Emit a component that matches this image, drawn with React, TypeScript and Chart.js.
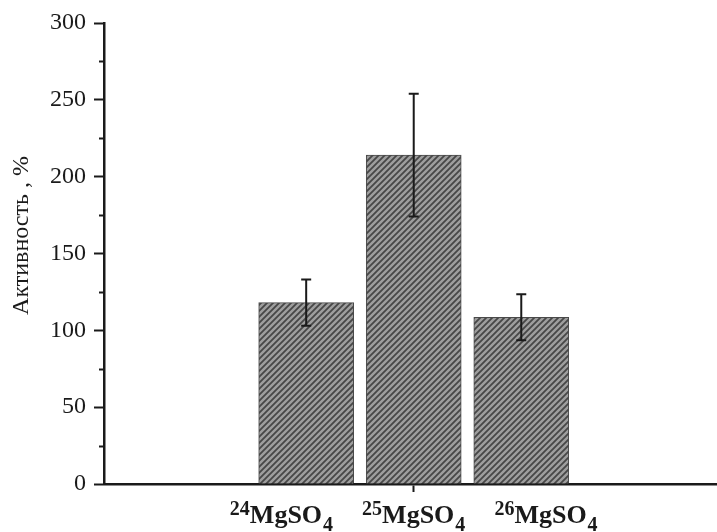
import React, { useEffect, useRef } from "react";
import { Chart, registerables } from "chart.js";

Chart.register(...registerables);

const isotopes = ["24", "25", "26"];
const formulaMain = "MgSO";
const formulaSub = "4";
const activity = [118, 214, 108.5];
const errors = [15, 40, 15];
const yTitle = "Активность , %";
const yMin = 0;
const yMax = 300;
const yMajorStep = 50;
const yMinorStep = 25;

const SERIF = "'Liberation Serif', 'Times New Roman', serif";
const INK = "#1a1a1a";

function makePattern(): CanvasPattern | string {
  const s = 6;
  const c = document.createElement("canvas");
  c.width = s;
  c.height = s;
  const g = c.getContext("2d");
  if (!g) return "#777";
  g.fillStyle = "#9e9e9e";
  g.fillRect(0, 0, s, s);
  g.strokeStyle = "#474747";
  g.lineWidth = 1.8;
  g.beginPath();
  g.moveTo(-1, s + 1);
  g.lineTo(s + 1, -1);
  g.moveTo(-1, 1);
  g.lineTo(1, -1);
  g.moveTo(s - 1, s + 1);
  g.lineTo(s + 1, s - 1);
  g.stroke();
  const p = g.createPattern(c, "repeat");
  return p || "#777";
}

export default function App() {
  const ref = useRef<HTMLCanvasElement | null>(null);

  useEffect(() => {
    if (!ref.current) return;
    const pattern = makePattern();
    const positions = isotopes.map((_, i) => i + 1);
    const mid = (positions[0] + positions[positions.length - 1]) / 2;

    const extras = {
      id: "extras",
      afterDatasetsDraw(chart: any) {
        const ctx = chart.ctx;
        const ys = chart.scales.y;
        const meta = chart.getDatasetMeta(0);
        ctx.save();
        ctx.strokeStyle = INK;
        ctx.lineWidth = 2;
        meta.data.forEach((el: any, i: number) => {
          const top = ys.getPixelForValue(activity[i] + errors[i]);
          const bot = ys.getPixelForValue(activity[i] - errors[i]);
          ctx.beginPath();
          ctx.moveTo(el.x, top);
          ctx.lineTo(el.x, bot);
          ctx.moveTo(el.x - 5, top);
          ctx.lineTo(el.x + 5, top);
          ctx.moveTo(el.x - 5, bot);
          ctx.lineTo(el.x + 5, bot);
          ctx.stroke();
        });
        ctx.restore();
      },
      afterDraw(chart: any) {
        const ctx = chart.ctx;
        const ys = chart.scales.y;
        const xs = chart.scales.x;
        const area = chart.chartArea;
        ctx.save();
        ctx.strokeStyle = INK;
        ctx.lineWidth = 2;
        for (let v = yMin; v <= yMax; v += yMinorStep) {
          if (v % yMajorStep === 0) continue;
          const py = Math.round(ys.getPixelForValue(v)) + 0.5;
          ctx.beginPath();
          ctx.moveTo(area.left - 5, py);
          ctx.lineTo(area.left, py);
          ctx.stroke();
        }
        ctx.fillStyle = INK;
        ctx.font = `24px ${SERIF}`;
        ctx.textAlign = "center";
        ctx.textBaseline = "middle";
        ctx.translate(22, (area.top + area.bottom) / 2 - 18);
        ctx.rotate(-Math.PI / 2);
        ctx.fillText(yTitle, 0, 0);
        ctx.setTransform(1, 0, 0, 1, 0, 0);
        const baseY = area.bottom + 39;
        const supFont = `bold 20px ${SERIF}`;
        const mainFont = `bold 26px ${SERIF}`;
        isotopes.forEach((iso, i) => {
          const pos = mid + (positions[i] - mid) * 1.23;
          const cx = xs.getPixelForValue(pos);
          ctx.textAlign = "left";
          ctx.textBaseline = "alphabetic";
          ctx.font = supFont;
          const wSup = ctx.measureText(iso).width;
          const wSub = ctx.measureText(formulaSub).width;
          ctx.font = mainFont;
          const wMain = ctx.measureText(formulaMain).width;
          const total = wSup + wMain + wSub + 1;
          let x0 = cx - total / 2;
          ctx.font = supFont;
          ctx.fillText(iso, x0, baseY - 8);
          x0 += wSup;
          ctx.font = mainFont;
          ctx.fillText(formulaMain, x0, baseY);
          x0 += wMain + 1;
          ctx.font = supFont;
          ctx.fillText(formulaSub, x0, baseY + 8);
        });
        ctx.restore();
      },
    };

    const chart = new Chart(ref.current, {
      type: "bar",
      data: {
        datasets: [
          {
            data: positions.map((p, i) => ({ x: p, y: activity[i] })),
            backgroundColor: pattern as any,
            borderColor: "#4a4a4a",
            borderWidth: 1,
            barThickness: 95,
          },
        ],
      },
      options: {
        animation: false,
        responsive: true,
        maintainAspectRatio: false,
        layout: { padding: { top: 23, right: 0, left: 0, bottom: 0 } },
        plugins: {
          legend: { display: false },
          tooltip: { enabled: false },
        },
        scales: {
          x: {
            type: "linear",
            offset: false,
            bounds: "data",
            min: -0.88,
            max: 4.82,
            afterFit: (s: any) => {
              s.height = 48;
            },
            afterBuildTicks: (s: any) => {
              s.ticks = [{ value: mid }];
            },
            ticks: { display: false },
            grid: {
              offset: false,
              drawOnChartArea: false,
              tickLength: 8,
              tickColor: INK,
              tickWidth: 2,
            },
            border: { color: INK, width: 2.5 },
          },
          y: {
            min: yMin,
            max: yMax,
            afterFit: (s: any) => {
              s.width = 104;
            },
            afterBuildTicks: (s: any) => {
              const t = [];
              for (let v = yMin; v <= yMax; v += yMajorStep) t.push({ value: v });
              s.ticks = t;
            },
            ticks: {
              color: INK,
              padding: 8,
              font: { family: SERIF, size: 24 },
            },
            grid: {
              drawOnChartArea: false,
              tickLength: 10,
              tickColor: INK,
              tickWidth: 2,
            },
            border: { color: INK, width: 2.5 },
          },
        },
      },
      plugins: [extras],
    });
    return () => chart.destroy();
  }, []);

  return (
    <div style={{ position: "absolute", left: 0, top: 0, width: 717, height: 532 }}>
      <canvas ref={ref} />
    </div>
  );
}
